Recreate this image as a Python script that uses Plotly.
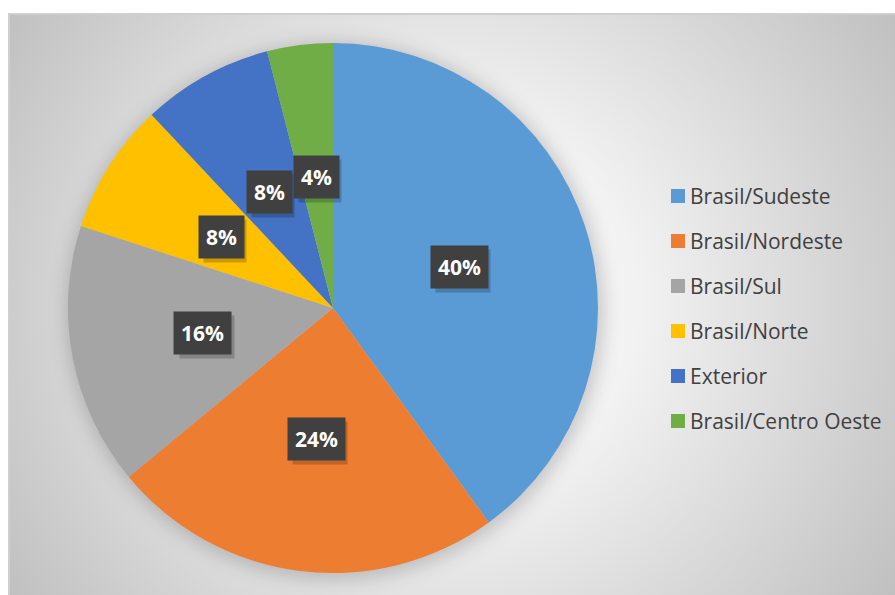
import base64, math
import plotly.graph_objects as go

# ---- data ----
categories = ["Brasil/Sudeste", "Brasil/Nordeste", "Brasil/Sul", "Brasil/Norte", "Exterior", "Brasil/Centro Oeste"]
values = [40, 24, 16, 8, 8, 4]
colors = ["#5B9BD5", "#ED7D31", "#A5A5A5", "#FFC000", "#4472C4", "#70AD47"]

W, H = 895, 595
# pie geometry (pixels)
PIE_CX, PIE_CY, PIE_R = 333, 308, 265
FRAME_X0, FRAME_Y0 = 9, 14

dom_x = [(PIE_CX - PIE_R) / W, (PIE_CX + PIE_R) / W]
dom_y = [1 - (PIE_CY + PIE_R) / H, 1 - (PIE_CY - PIE_R) / H]

fig = go.Figure()
fig.add_trace(go.Pie(
    labels=categories, values=values, sort=False, direction="clockwise", rotation=0,
    marker=dict(colors=colors, line=dict(width=0)),
    textinfo="none", hoverinfo="label+percent", showlegend=False,
    domain=dict(x=dom_x, y=dom_y),
))

# ---- background: radial gradient + pie shadow, as SVG image ----
fw, fh = W - FRAME_X0, H - FRAME_Y0
pcx, pcy = PIE_CX - FRAME_X0, PIE_CY - FRAME_Y0
svg = f'''<svg xmlns="http://www.w3.org/2000/svg" width="{fw}" height="{fh}" viewBox="0 0 {fw} {fh}">
<defs>
<radialGradient id="g" gradientUnits="userSpaceOnUse" cx="{fw/2}" cy="{fh/2}" r="{math.hypot(fw/2, fh/2)}">
<stop offset="0" stop-color="#ffffff"/><stop offset="0.35" stop-color="#f2f2f2"/><stop offset="1" stop-color="#c0c0c0"/>
</radialGradient>
<filter id="b" x="-20%" y="-20%" width="140%" height="140%"><feGaussianBlur stdDeviation="9"/></filter>
</defs>
<rect x="0" y="0" width="{fw}" height="{fh}" fill="url(#g)"/>
<circle cx="{pcx+2}" cy="{pcy+3}" r="{PIE_R+4}" fill="#000" fill-opacity="0.18" filter="url(#b)"/>
</svg>'''
src = "data:image/svg+xml;base64," + base64.b64encode(svg.encode()).decode()
fig.add_layout_image(dict(source=src, xref="paper", yref="paper", x=FRAME_X0 / W, y=1 - FRAME_Y0 / H,
                          sizex=fw / W, sizey=fh / H, xanchor="left", yanchor="top",
                          sizing="stretch", layer="below"))
fig.add_shape(type="rect", xref="paper", yref="paper", x0=FRAME_X0 / W, x1=1 + 2 / W,
              y0=-2 / H, y1=1 - FRAME_Y0 / H, line=dict(color="#cfcfcf", width=2), layer="above")

# ---- data labels (computed from slice angles) ----
total = sum(values)
cum = 0
cxp = (dom_x[0] + dom_x[1]) / 2
cyp = (dom_y[0] + dom_y[1]) / 2
for v in values:
    mid = (cum + v / 2) / total * 2 * math.pi
    cum += v
    lx = cxp + 0.5 * PIE_R * math.sin(mid) / W
    ly = cyp + 0.5 * PIE_R * math.cos(mid) / H
    pct = str(round(v / total * 100))
    txt = f"<b>{pct}%</b>"
    blank = "\u2007" * (len(pct) + 1) + "\u2009"  # whitespace of similar width, for the shadow box
    # shadow box
    fig.add_annotation(x=lx, y=ly, xref="paper", yref="paper", text=blank, showarrow=False,
                       xanchor="center", yanchor="middle",
                       xshift=4, yshift=-4, bgcolor="rgba(0,0,0,0.2)", borderpad=7,
                       font=dict(family="Open Sans", size=21, color="rgba(0,0,0,0)"))
    fig.add_annotation(x=lx, y=ly, xref="paper", yref="paper", text=txt, showarrow=False,
                       xanchor="center", yanchor="middle",
                       bgcolor="#404040", borderpad=7,
                       font=dict(family="Open Sans", size=21, color="white"))

# ---- legend (drawn from categories) ----
LEG_X, LEG_Y0, LEG_STEP, SQ = 671, 196, 45, 14
for i, (c, col) in enumerate(zip(categories, colors)):
    yc = LEG_Y0 + i * LEG_STEP
    fig.add_shape(type="rect", xref="paper", yref="paper",
                  x0=LEG_X / W, x1=(LEG_X + SQ) / W,
                  y0=1 - (yc + SQ / 2) / H, y1=1 - (yc - SQ / 2) / H,
                  fillcolor=col, line=dict(width=0))
    fig.add_annotation(x=(LEG_X + SQ + 3) / W, y=1 - yc / H, xref="paper", yref="paper",
                       text=c, showarrow=False, xanchor="left", yanchor="middle",
                       font=dict(family="Open Sans", size=21, color="#404040"))

fig.update_layout(width=W, height=H, margin=dict(l=0, r=0, t=0, b=0),
                  paper_bgcolor="white", plot_bgcolor="white")
fig.write_html("out.html")
